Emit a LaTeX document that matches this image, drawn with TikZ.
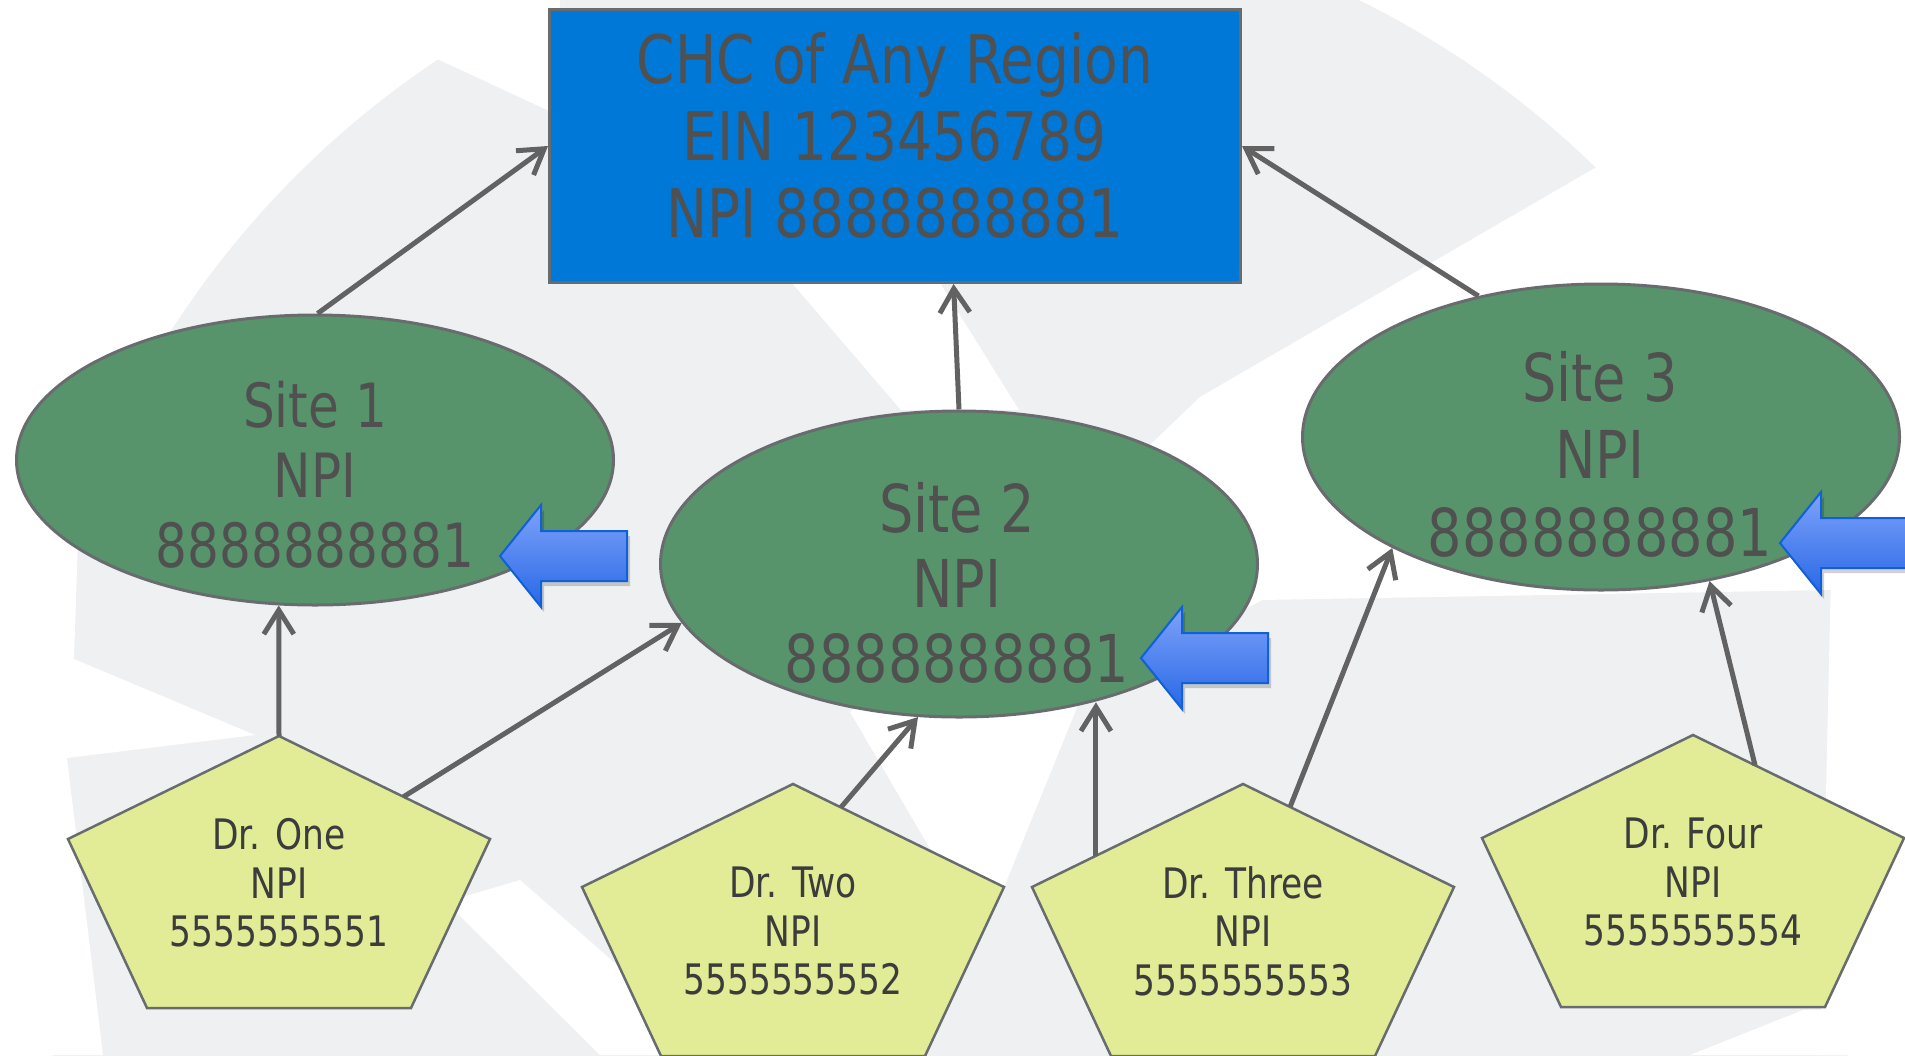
\documentclass[tikz,border=0pt]{standalone}
\usepackage{fontspec}
\setmainfont{DejaVu Sans}[FakeStretch=0.82]
\usetikzlibrary{shapes.geometric,arrows.meta,calc}
\definecolor{bggrey}{RGB}{239,240,242}
\definecolor{boxblue}{RGB}{0,120,215}
\definecolor{edgegrey}{RGB}{105,108,110}
\definecolor{txtgrey}{RGB}{80,80,80}
\definecolor{sitegreen}{RGB}{87,148,108}
\definecolor{drfill}{RGB}{226,236,150}
\definecolor{drtxt}{RGB}{60,60,60}
\definecolor{conngrey}{RGB}{98,98,98}
\definecolor{arrtop}{RGB}{126,162,250}
\definecolor{arrbot}{RGB}{40,104,230}
\definecolor{arredge}{RGB}{16,96,216}
\tikzset{
  chcbox/.style={draw=edgegrey, line width=3pt, fill=boxblue, minimum width=691pt, minimum height=273pt, inner sep=0pt},
  boxtext/.style={text=txtgrey, align=center, font=\fontsize{67pt}{77pt}\selectfont, inner sep=0pt},
  site/.style={ellipse, draw=edgegrey, line width=3pt, fill=sitegreen, inner sep=0pt},
  sitetext/.style={text=txtgrey, align=center, inner sep=0pt},
  drtext/.style={text=drtxt, align=center, font=\fontsize{42pt}{48.5pt}\selectfont, inner sep=0pt},
  conn/.style={draw=conngrey, line width=5pt, -{Straight Barb[length=24pt,width=30pt]}},
  pentagon/.pic={
    \coordinate (-t) at (0,0);
    \coordinate (-ur) at (211,103);
    \coordinate (-br) at (132,272);
    \coordinate (-bl) at (-132,272);
    \coordinate (-ul) at (-211,103);
    \filldraw[fill=drfill, draw=edgegrey, line width=2.5pt, line join=miter] (-t) -- (-ur) -- (-br) -- (-bl) -- (-ul) -- cycle;
  },
  bluearrow/.pic={
    \fill[black, opacity=0.18] (3,5) -- (44,-46) -- (44,-20) -- (130,-20) -- (130,30) -- (44,30) -- (44,56) -- cycle;
    \shade[top color=arrtop, bottom color=arrbot, draw=arredge, line width=2pt, line join=miter]
      (0,0) -- (41,-51) -- (41,-25) -- (127,-25) -- (127,25) -- (41,25) -- (41,51) -- cycle;
  }
}
\begin{document}
\begin{tikzpicture}[x=1pt,y=-1pt]
\useasboundingbox (0,0) rectangle (1905,1055);
\clip (0,0) rectangle (1905,1055);
\fill[white] (0,0) rectangle (1905,1055);
% background watermark (approximate)
\fill[bggrey] (950,830) circle[radius=925];
% top-right white swoosh around Site 3, down between Dr. Two and Dr. Three
\fill[white] (1600,165) -- (1200,397) -- (1030,560) -- (850,712) -- (960,900) -- (1005,885) -- (1080,700) -- (1262,600) -- (1830,590) -- (1905,560) -- (1905,0) -- (1700,0) -- cycle;
% white band under the box
\fill[white] (792,283) -- (940,283) -- (1019,410) -- (901,410) -- cycle;
% right edge
\fill[white] (1835,400) -- (1905,400) -- (1905,1055) -- (1820,1055) -- cycle;
\fill[white] (1690,1055) -- (1803,1010) -- (1905,1010) -- (1905,1055) -- cycle;
% top-left spoke
\fill[white] (433,57) -- (560,116) -- (560,0) -- (470,0) -- cycle;
% left edge and left spokes
\fill[white] (0,540) -- (78,540) -- (74,659) -- (255,735) -- (67,758) -- (103,1055) -- (0,1055) -- cycle;
% spoke between Dr. One and Dr. Two
\fill[white] (446,902) -- (520,880) -- (720,1055) -- (600,1055) -- cycle;

% main nodes
\node[chcbox] (box) at (895,146) {};
\node[boxtext] (boxlabel) at (895,136) {CHC of Any Region\\EIN 123456789\\NPI 8888888881};

\node[site, minimum width=597pt, minimum height=290pt] (site1) at (315,460) {};
\node[sitetext, font=\fontsize{61pt}{70pt}\selectfont] (site1label) at (315,475) {Site 1\\NPI\\8888888881};
\node[site, minimum width=597pt, minimum height=306pt] (site2) at (959,564) {};
\node[sitetext, font=\fontsize{66pt}{75pt}\selectfont] (site2label) at (957,583) {Site 2\\NPI\\8888888881};
\node[site, minimum width=597pt, minimum height=306pt] (site3) at (1601,437) {};
\node[sitetext, font=\fontsize{66pt}{77.5pt}\selectfont] (site3label) at (1600,454) {Site 3\\NPI\\8888888881};

\pic (d1p) at (279,736) {pentagon};
\pic (d2p) at (793,784) {pentagon};
\pic (d3p) at (1243,784) {pentagon};
\pic (d4p) at (1693,735) {pentagon};
\node[drtext] (dr1) at (279,883) {Dr. One\\NPI\\5555555551};
\node[drtext] (dr2) at (793,931) {Dr. Two\\NPI\\5555555552};
\node[drtext] (dr3) at (1243,931) {Dr. Three\\NPI\\5555555553};
\node[drtext] (dr4) at (1693,882) {Dr. Four\\NPI\\5555555554};

% connectors
\draw[conn] (site1.89) -- (box.west);
\draw[conn] (site2.north) -- (box.293.5);
\draw[conn] (site3.131.3) -- (box.east);
\draw[conn] (d1p-t) -- (site1.256);
\draw[conn] ($(d1p-t)!0.59!(d1p-ur)$) -- (site2.192);
\draw[conn] ($(d2p-t)!0.227!(d2p-ur)$) -- (site2.255);
\coordinate (d3a) at ($(d3p-t)!0.697!(d3p-ul)$);
\draw[conn] (d3a) -- (d3a |- site2.314);
\draw[conn] ($(d3p-t)!0.223!(d3p-ur)$) -- (site3.208);
\draw[conn] ($(d4p-t)!0.294!(d4p-ur)$) -- (site3.307);

% blue callout arrows
\pic (ba1) at (500,556) {bluearrow};
\pic (ba2) at (1141,658) {bluearrow};
\pic (ba3) at (1780,543) {bluearrow};
\end{tikzpicture}
\end{document}
